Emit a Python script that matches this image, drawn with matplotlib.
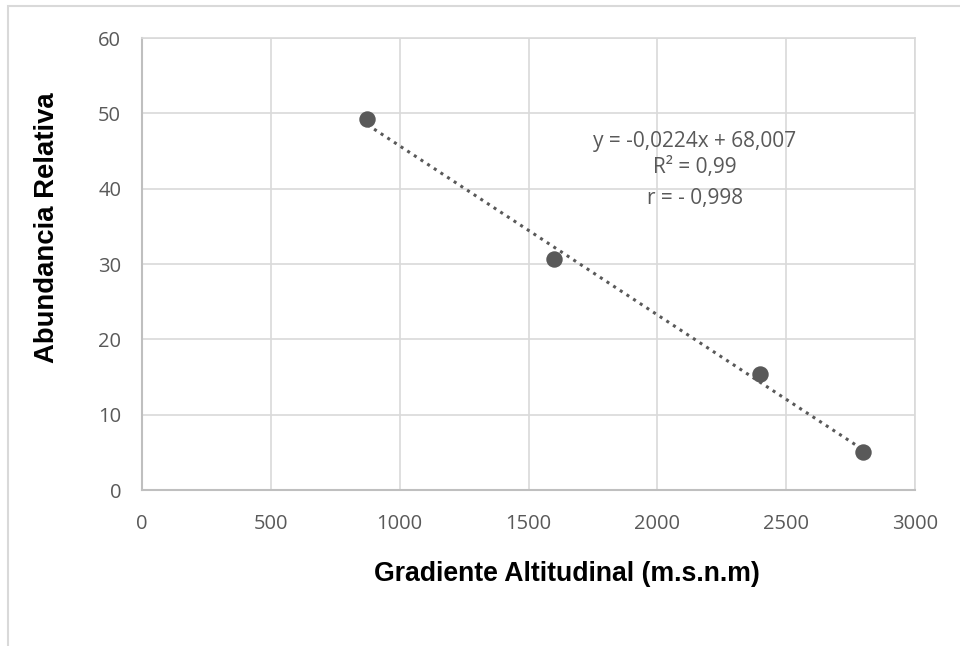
import matplotlib
matplotlib.use("Agg")
import matplotlib.pyplot as plt
from matplotlib.patches import Rectangle
import numpy as np

# valores
altitud = [875, 1600, 2400, 2800]
abundancia = [49.2, 30.7, 15.4, 5.0]
x_ticks = [0, 500, 1000, 1500, 2000, 2500, 3000]
y_ticks = [0, 10, 20, 30, 40, 50, 60]
eq_lines = ["y = -0,0224x + 68,007", "R² = 0,99", "r = - 0,998"]

gray = "#595959"
grid = "#d9d9d9"

fig = plt.figure(figsize=(9.6, 6.46), dpi=100)
ax = fig.add_axes([142 / 960, 1 - 490 / 646, (915 - 142) / 960, (490 - 38) / 646])

# borde del área del gráfico (cortado a la derecha y abajo)
fig.patches.append(Rectangle((8 / 960, -0.1), 1.2, 1 - 6 / 646 + 0.1,
                             transform=fig.transFigure, fill=False,
                             edgecolor=grid, linewidth=1.5))

# línea de tendencia
m, b = np.polyfit(altitud, abundancia, 1)
xt = np.array([min(altitud), max(altitud)])
ax.plot(xt, m * xt + b, linestyle=(0, (1, 1.6)), color=gray, linewidth=2.2, zorder=3)

ax.scatter(altitud, abundancia, s=140, color=gray, zorder=4, linewidths=0)

ax.set_xlim(0, 3000)
ax.set_ylim(0, 60)
ax.set_xticks(x_ticks)
ax.set_yticks(y_ticks)
ax.grid(True, color=grid, linewidth=1.2)
ax.set_axisbelow(True)
for side in ["top", "right"]:
    ax.spines[side].set_color(grid)
    ax.spines[side].set_linewidth(1.2)
for side in ["left", "bottom"]:
    ax.spines[side].set_color("#bfbfbf")
    ax.spines[side].set_linewidth(1.5)
ax.tick_params(length=0, colors=gray, labelsize=14.5)
ax.tick_params(axis="y", pad=15)
ax.tick_params(axis="x", pad=17)
for lbl in ax.get_xticklabels() + ax.get_yticklabels():
    lbl.set_family("Open Sans")

ax.set_xlabel("Gradiente Altitudinal (m.s.n.m)", fontsize=19.2, fontweight="bold",
              family="Liberation Sans")
ax.set_ylabel("Abundancia Relativa", fontsize=19.8, fontweight="bold",
              family="Liberation Sans")
ax.xaxis.set_label_coords(0.55, -0.158)
ax.yaxis.set_label_coords(-0.106, 0.581)

ys = [0.770, 0.713, 0.645]
for txt, yy in zip(eq_lines, ys):
    ax.text(0.715, yy, txt, transform=ax.transAxes, ha="center", va="center",
            fontsize=15, color=gray, family="Open Sans")

fig.savefig("out.png", dpi=100)
